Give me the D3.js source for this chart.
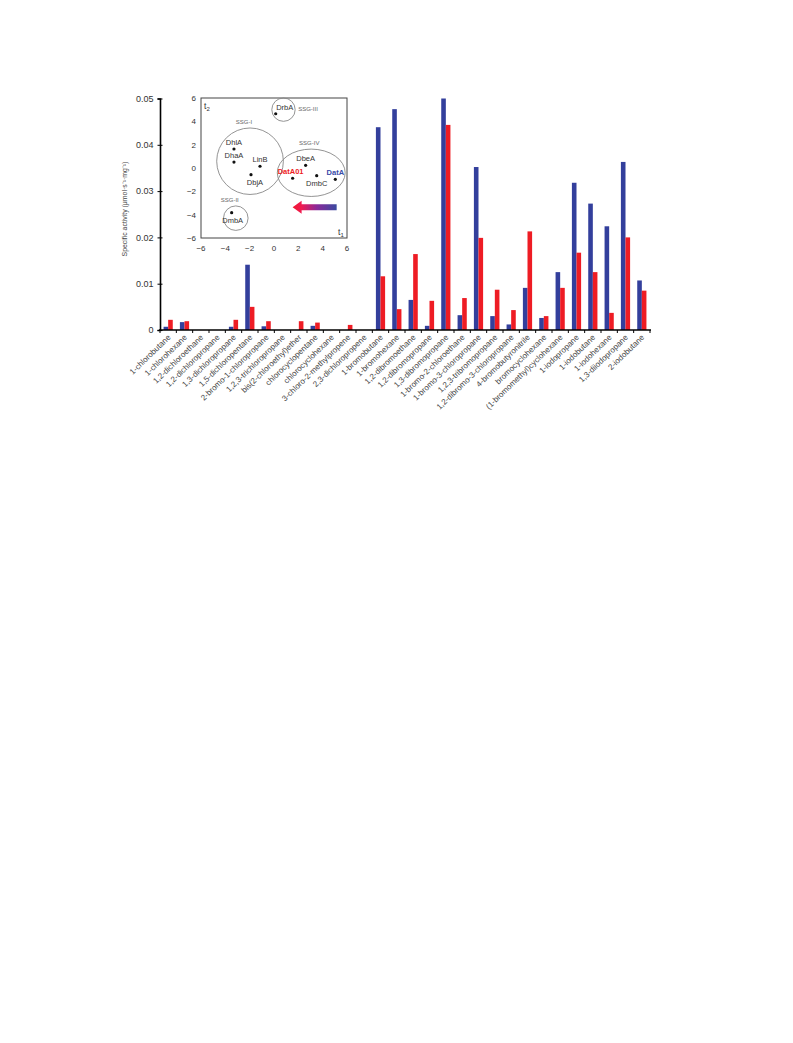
<!DOCTYPE html>
<html><head><meta charset="utf-8">
<script src="https://cdn.jsdelivr.net/npm/d3@7/dist/d3.min.js"></script>
<style>body{margin:0;background:#fff}svg{display:block;font-family:"Liberation Sans",Arial,sans-serif}</style>
</head><body>
<svg id="c" width="793" height="1043"></svg>
<script>
const categories = ["1-chlorobutane","1-chlorohexane","1,2-dichloroethane","1,2-dichloropropane","1,3-dichloropropane","1,5-dichloropentane","2-bromo-1-chloropropane","1,2,3-trichloropropane","bis(2-chloroethyl)ether","chlorocyclopentane","chlorocyclohexane","3-chloro-2-methylpropene","2,3-dichloropropene","1-bromobutane","1-bromohexane","1,2-dibromoethane","1,2-dibromopropane","1,3-dibromopropane","1-bromo-2-chloroethane","1-bromo-3-chloropropane","1,2,3-tribromopropane","1,2-dibromo-3-chloropropane","4-bromobutyronitrile","bromocyclohexane","(1-bromomethyl)cyclohexane","1-iodopropane","1-iodobutane","1-iodohexane","1,3-diiodopropane","2-iodobutane"];
const datA = [0.0007,0.0017,0,0,0.0007,0.0141,0.0008,0,0,0.0009,0,0,0,0.0438,0.0477,0.0065,0.0009,0.0500,0.0032,0.0352,0.0030,0.0012,0.0091,0.0026,0.0125,0.0318,0.0273,0.0224,0.0363,0.0107];
const datA01 = [0.0022,0.0019,0,0,0.0022,0.0050,0.0019,0,0.0019,0.0016,0,0.0011,0,0.0116,0.0045,0.0164,0.0063,0.0443,0.0069,0.0199,0.0087,0.0043,0.0213,0.0030,0.0091,0.0167,0.0125,0.0037,0.0200,0.0085];
const yTicks = [0,0.01,0.02,0.03,0.04,0.05];
const yTickLabels = ["0","0.01","0.02","0.03","0.04","0.05"];

// inset (PCA-like plot)
const insetTicks = [-6,-4,-2,0,2,4,6];
const groupNames = ["SSG-I","SSG-II","SSG-III","SSG-IV"];
const groupT1 = [-1.97,-3.14,0.78,3.06];
const groupT2 = [0.58,-4.3,5.0,-0.41];
const groupR1 = [2.74,1.01,0.96,2.79];
const groupR2 = [2.85,1.05,1.0,2.03];
const enzymeNames = ["DrbA","DhlA","DhaA","LinB","DbjA","DbeA","DatA01","DmbC","DatA","DmbA"];
const enzymeT1 = [0.14,-3.29,-3.29,-1.15,-1.89,2.6,1.53,3.51,5.04,-3.48];
const enzymeT2 = [4.65,1.63,0.51,0.15,-0.57,0.23,-0.88,-0.66,-0.97,-3.83];
const arrowT1 = [5.15,1.53];
const arrowT2 = [-3.37,-3.37];

const svg = d3.select("#c");
const blue = "#333f9c", red = "#ee1c24";

const x = d3.scaleBand().domain(categories).range([160,650]);
const y = d3.scaleLinear().domain([0,0.05]).range([330,98.5]);
const bw = 4.6;

const g = svg.append("g");
// bars
g.selectAll("rect.a").data(categories).join("rect")
  .attr("x", d => x(d) + x.bandwidth()/2 - bw)
  .attr("width", bw)
  .attr("y", (d,i) => y(datA[i]))
  .attr("height", (d,i) => y(0) - y(datA[i]))
  .attr("fill", blue);
g.selectAll("rect.b").data(categories).join("rect")
  .attr("x", d => x(d) + x.bandwidth()/2)
  .attr("width", bw)
  .attr("y", (d,i) => y(datA01[i]))
  .attr("height", (d,i) => y(0) - y(datA01[i]))
  .attr("fill", red);

// y axis
const ya = g.append("g").attr("transform","translate(160,0)")
  .call(d3.axisLeft(y).tickValues(yTicks).tickFormat((d,i)=>yTickLabels[i]).tickSize(2.5).tickPadding(4));
ya.select(".domain").attr("stroke","#000").attr("stroke-width",1.6);
ya.selectAll(".tick line").attr("stroke","#000").attr("x2",2.5).attr("x1",-2.5);
ya.selectAll(".tick text").attr("font-size",9).attr("fill","#333").attr("font-family","Liberation Sans, Arial, sans-serif");

// x axis
const xa = g.append("g").attr("transform",`translate(0,${y(0)})`);
xa.append("line").attr("x1",159).attr("x2",651).attr("stroke","#000").attr("stroke-width",1.6);
const bounds = categories.map(d => x(d)).concat([x.range()[1]]);
xa.selectAll("line.t").data(bounds).join("line")
  .attr("x1",d=>d).attr("x2",d=>d).attr("y1",0).attr("y2",3).attr("stroke","#000").attr("stroke-width",1);
xa.selectAll("text").data(categories).join("text")
  .attr("transform", d => `translate(${x(d)+x.bandwidth()/2+3},${8}) rotate(-44)`)
  .attr("text-anchor","end")
  .attr("font-size",8)
  .attr("fill","#444")
  .text(d => d);

// y label
svg.append("text")
  .attr("transform","translate(127,209) rotate(-90)")
  .attr("text-anchor","middle")
  .attr("font-size",6.9)
  .attr("fill","#444")
  .text("Specific activity (μmol·s⁻¹·mg⁻¹)");

// inset
const ix = d3.scaleLinear().domain([-6,6]).range([201,347]);
const iy = d3.scaleLinear().domain([-6,6]).range([238,98]);
const ins = svg.append("g");
ins.append("rect").attr("x",ix(-6)).attr("y",iy(6)).attr("width",ix(6)-ix(-6)).attr("height",iy(-6)-iy(6))
  .attr("fill","#fff").attr("stroke","#444").attr("stroke-width",1);
ins.selectAll("text.xt").data(insetTicks).join("text")
  .attr("x",d=>ix(d)).attr("y",iy(-6)+13).attr("text-anchor","middle").attr("font-size",8).attr("fill","#333")
  .text(d => d < 0 ? "\u2212"+Math.abs(d) : d);
ins.selectAll("text.yt").data(insetTicks).join("text")
  .attr("x",ix(-6)-5).attr("y",d=>iy(d)+3).attr("text-anchor","end").attr("font-size",8).attr("fill","#333")
  .text(d => d < 0 ? "\u2212"+Math.abs(d) : d);
// axis names
const t2 = ins.append("text").attr("x",ix(-6)+3).attr("y",iy(6)+11).attr("font-size",8.5).attr("fill","#333");
t2.append("tspan").text("t");
t2.append("tspan").attr("font-size",6).attr("dy",2).text("2");
const t1 = ins.append("text").attr("x",ix(6)-9).attr("y",iy(-6)-3).attr("font-size",8.5).attr("fill","#333");
t1.append("tspan").text("t");
t1.append("tspan").attr("font-size",6).attr("dy",2).text("1");

// groups
ins.selectAll("ellipse").data(groupNames).join("ellipse")
  .attr("cx",(d,i)=>ix(groupT1[i])).attr("cy",(d,i)=>iy(groupT2[i]))
  .attr("rx",(d,i)=>ix(groupR1[i])-ix(0)).attr("ry",(d,i)=>iy(0)-iy(groupR2[i]))
  .attr("fill","none").attr("stroke","#888").attr("stroke-width",0.9);
ins.selectAll("text.g").data(groupNames).join("text")
  .attr("x",(d,i)=> d==="SSG-III" ? ix(groupT1[i]+groupR1[i])+3 : ix(groupT1[i]) - (d==="SSG-II"?6:(d==="SSG-I"?6:2)))
  .attr("y",(d,i)=> d==="SSG-III" ? iy(groupT2[i])+1 : iy(groupT2[i]+groupR2[i])-4)
  .attr("text-anchor",d=> d==="SSG-III" ? "start":"middle")
  .attr("font-size",6).attr("fill","#666").text(d=>d);

// arrow with gradient
const defs = svg.append("defs");
const grad = defs.append("linearGradient").attr("id","ag").attr("gradientUnits","userSpaceOnUse")
  .attr("x1",ix(arrowT1[0])).attr("x2",ix(arrowT1[1])).attr("y1",0).attr("y2",0);
grad.append("stop").attr("offset","0").attr("stop-color","#3a4aa0");
grad.append("stop").attr("offset","0.45").attr("stop-color","#8a2a9a");
grad.append("stop").attr("offset","0.8").attr("stop-color","#f01a50");
grad.append("stop").attr("offset","1").attr("stop-color","#f01a30");
const ax0 = ix(arrowT1[0]), ax1 = ix(arrowT1[1]), ay = iy(arrowT2[0]);
ins.append("path")
  .attr("d",`M${ax0},${ay-3}L${ax1+9},${ay-3}L${ax1+9},${ay-6.5}L${ax1},${ay}L${ax1+9},${ay+6.5}L${ax1+9},${ay+3}L${ax0},${ay+3}Z`)
  .attr("fill","url(#ag)");

// enzymes
const below = new Set(["DbjA","DmbC","DmbA"]);
ins.selectAll("circle").data(enzymeNames).join("circle")
  .attr("cx",(d,i)=>ix(enzymeT1[i])).attr("cy",(d,i)=>iy(enzymeT2[i])).attr("r",1.6).attr("fill","#111");
ins.selectAll("text.e").data(enzymeNames).join("text")
  .attr("x",(d,i)=> ix(enzymeT1[i]) + (d==="DrbA"?9:(d==="DbjA"?4:(d==="DmbA"?1:(d==="DatA01"?-2:0)))))
  .attr("y",(d,i)=> iy(enzymeT2[i]) + (below.has(d)?10:-4))
  .attr("text-anchor","middle")
  .attr("font-size",7.5)
  .attr("font-weight",d=> d.startsWith("DatA")?"bold":"normal")
  .attr("fill",d=> d==="DatA01"?red:(d==="DatA"?"#3a4aa8":"#333"))
  .text(d=>d);
</script>
</body></html>
